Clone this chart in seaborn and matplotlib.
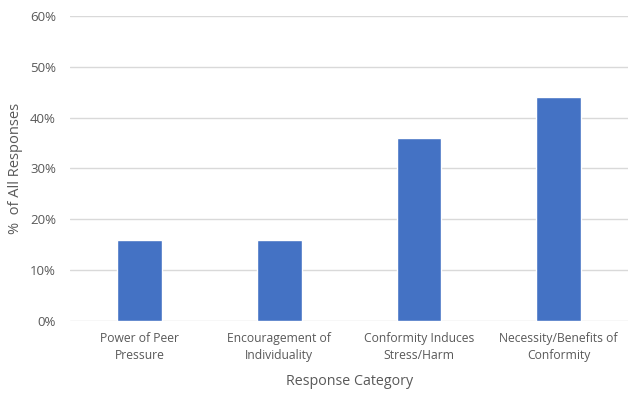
import matplotlib
matplotlib.use('Agg')
import matplotlib.pyplot as plt
import matplotlib.ticker as mticker
import seaborn as sns
import pandas as pd

categories = ['Power of Peer\nPressure', 'Encouragement of\nIndividuality',
              'Conformity Induces\nStress/Harm', 'Necessity/Benefits of\nConformity']
shares = [0.16, 0.16, 0.36, 0.44]

barColor = '#4472c4'
textColor = '#595959'
gridColor = '#d9d9d9'

sns.set_style('white')
plt.rcParams['font.family'] = ['Open Sans', 'DejaVu Sans']

df = pd.DataFrame({'category': categories, 'share': shares})

fig = plt.figure(figsize=(6.29, 3.95), dpi=100)
ax = fig.add_axes([0.111, 0.187, 0.888, 0.773])
sns.barplot(data=df, x='category', y='share', color=barColor, width=0.32,
            saturation=1, ax=ax, zorder=3)

ax.set_ylim(0, 0.6)
ax.set_yticks([0, 0.1, 0.2, 0.3, 0.4, 0.5, 0.6])
ax.yaxis.set_major_formatter(mticker.PercentFormatter(1.0, decimals=0))
ax.grid(axis='y', color=gridColor, linewidth=1, zorder=0)
for s in ax.spines.values():
    s.set_visible(False)
ax.tick_params(axis='y', length=0, labelsize=9.5, labelcolor=textColor, pad=10)
ax.tick_params(axis='x', length=0, labelsize=8.7, labelcolor=textColor, pad=8)
for lbl in ax.get_xticklabels():
    lbl.set_linespacing(1.35)
ax.set_xlabel('Response Category', fontsize=10.3, color=textColor, labelpad=9)
ax.set_ylabel('%  of All Responses', fontsize=10.5, color=textColor, labelpad=5)

fig.savefig('out.png', dpi=100)
